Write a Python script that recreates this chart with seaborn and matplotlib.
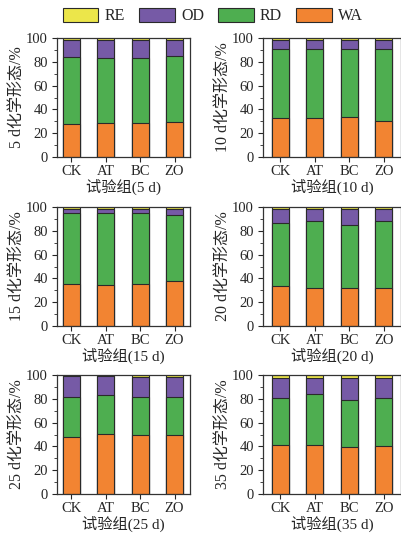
import matplotlib
matplotlib.use('Agg')
import matplotlib.pyplot as plt
from matplotlib.patches import Patch
from matplotlib.ticker import MultipleLocator
import seaborn as sns
import pandas as pd

sns.set_style('ticks')
plt.rcParams['font.family'] = ['Liberation Serif', 'Noto Sans CJK SC']

groups = ['CK', 'AT', 'BC', 'ZO']
days = ['5', '10', '15', '20', '25', '35']

# percentages per fraction, per day panel (CK, AT, BC, ZO)
wa = {
    '5': [27.5, 28.9, 28.9, 29.4],
    '10': [32.5, 32.5, 33.6, 30.0],
    '15': [35.2, 34.4, 35.2, 37.7],
    '20': [33.8, 31.6, 31.6, 31.8],
    '25': [47.8, 50.8, 49.7, 50.0],
    '35': [40.8, 40.8, 39.4, 40.3],
}
rd = {
    '5': [56.4, 53.9, 54.2, 55.6],
    '10': [58.1, 58.3, 57.0, 61.1],
    '15': [59.5, 60.9, 59.5, 55.9],
    '20': [53.1, 56.4, 53.3, 56.7],
    '25': [34.1, 32.5, 32.2, 31.1],
    '35': [39.5, 43.6, 39.2, 40.5],
}
od = {
    '5': [14.2, 15.3, 15.0, 13.1],
    '10': [8.0, 7.8, 8.0, 7.5],
    '15': [3.6, 3.0, 3.9, 4.7],
    '20': [11.4, 10.3, 13.4, 9.8],
    '25': [17.5, 16.1, 16.2, 17.0],
    '35': [16.9, 12.8, 18.6, 16.4],
}
re_ = {
    '5': [1.9, 1.9, 1.9, 1.9],
    '10': [1.4, 1.4, 1.4, 1.4],
    '15': [1.7, 1.7, 1.4, 1.7],
    '20': [1.7, 1.7, 1.7, 1.7],
    '25': [0.6, 0.6, 1.9, 1.9],
    '35': [2.8, 2.8, 2.8, 2.8],
}

colors = {'RE': '#ECE64A', 'OD': '#765AA6', 'RD': '#4EAE50', 'WA': '#F28432'}
edge = '#2a2a2a'

W, H = 401, 535
fig = plt.figure(figsize=(W / 100, H / 100), dpi=100)

rows_px = [(38, 157), (207, 326), (375, 494)]
cols_px = [(57, 190), (263, 401)]


def px_axes(x0, x1, y0, y1):
    return fig.add_axes([x0 / W, 1 - y1 / H, (x1 - x0) / W, (y1 - y0) / H])


for i, d in enumerate(days):
    r, c = divmod(i, 2)
    (y0, y1), (x0, x1) = rows_px[r], cols_px[c]
    ax = px_axes(x0, x1, y0, y1)

    df = pd.DataFrame({'group': groups, 'WA': wa[d], 'RD': rd[d], 'OD': od[d], 'RE': re_[d]})
    df['c_WA'] = df['WA']
    df['c_RD'] = df['c_WA'] + df['RD']
    df['c_OD'] = df['c_RD'] + df['OD']
    df['c_RE'] = df['c_OD'] + df['RE']

    # draw from the tallest cumulative layer down so each shows as a segment
    for key in ['RE', 'OD', 'RD', 'WA']:
        sns.barplot(data=df, x='group', y='c_' + key, order=groups, color=colors[key],
                    width=0.5, edgecolor=edge, linewidth=0.8, saturation=1, ax=ax)

    ax.set_ylim(0, 100)
    if c == 0:
        ax.set_xlim(-0.42, 3.45)
    else:
        ax.set_xlim(-0.5, 3.5)
    ax.yaxis.set_major_locator(MultipleLocator(20))
    ax.yaxis.set_minor_locator(MultipleLocator(10))
    ax.tick_params(axis='both', which='major', direction='out', length=3.5, width=0.8,
                   labelsize=10.5, pad=3)
    ax.tick_params(axis='x', which='major', pad=2)
    ax.tick_params(axis='y', which='minor', direction='out', length=2, width=0.6)
    for sp in ax.spines.values():
        sp.set_linewidth(0.9)
        sp.set_color('#333333')
    ax.set_xlabel(f'试验组({d} d)', fontsize=11, labelpad=0.5)
    ax.set_ylabel(f'{d} d化学形态/%', fontsize=11.5, labelpad=1)

handles = [Patch(facecolor=colors[k], edgecolor=edge, linewidth=0.8, label=k)
           for k in ['RE', 'OD', 'RD', 'WA']]
fig.legend(handles=handles, loc='center', bbox_to_anchor=(213 / W, 1 - 16 / H), ncol=4,
           frameon=False, fontsize=11.5, handlelength=2.2, handleheight=1.0,
           handletextpad=0.4, columnspacing=0.9)

fig.savefig('out.png', dpi=100)
